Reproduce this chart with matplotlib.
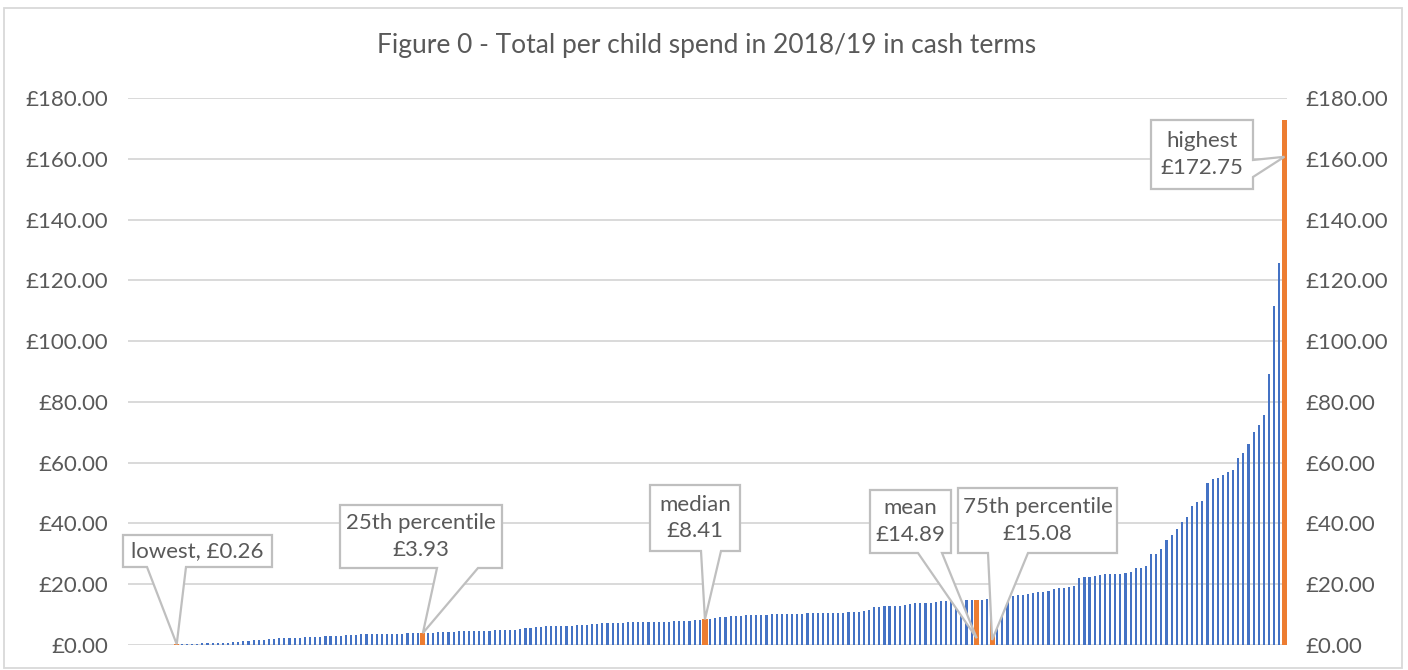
import matplotlib.pyplot as plt
from matplotlib.patches import Polygon, Rectangle

plt.rcParams['font.family'] = ['Lato', 'DejaVu Sans']

# per child spend, sorted (first 9 categories have no value)
values = [
    0, 0, 0, 0, 0, 0, 0, 0, 0, 0.26,
    0.30, 0.31, 0.35, 0.48, 0.52, 0.58, 0.60, 0.64, 0.68, 0.71,
    0.98, 1.02, 1.21, 1.47, 1.50, 1.55, 1.60, 1.85, 2.08, 2.28,
    2.30, 2.33, 2.38, 2.41, 2.68, 2.70, 2.74, 2.78, 2.81, 2.86,
    3.08, 3.10, 3.14, 3.18, 3.22, 3.48, 3.50, 3.52, 3.55, 3.57,
    3.60, 3.62, 3.66, 3.70, 3.86, 3.88, 3.91, 3.93, 4.02, 4.10,
    4.22, 4.38, 4.40, 4.42, 4.45, 4.47, 4.58, 4.60, 4.62, 4.64,
    4.66, 4.98, 5.00, 5.02, 5.05, 5.08, 5.42, 5.45, 5.48, 5.78,
    6.02, 6.18, 6.20, 6.22, 6.24, 6.26, 6.28, 6.66, 6.70, 6.73,
    7.05, 7.07, 7.09, 7.10, 7.12, 7.14, 7.16, 7.48, 7.50, 7.52,
    7.54, 7.56, 7.58, 7.60, 7.62, 7.64, 7.98, 8.00, 8.02, 8.05,
    8.08, 8.30, 8.41, 8.72, 8.78, 9.10, 9.15, 9.50, 9.55, 9.58,
    9.95, 9.97, 9.98, 10.00, 10.02, 10.04, 10.06, 10.08, 10.10, 10.12,
    10.14, 10.16, 10.40, 10.42, 10.44, 10.46, 10.48, 10.50, 10.52, 10.54,
    10.80, 10.84, 10.88, 11.25, 11.65, 12.40, 12.50, 12.80, 12.85, 12.88,
    12.92, 13.30, 13.35, 13.75, 13.78, 13.82, 13.86, 14.20, 14.60, 14.64,
    14.68, 14.72, 14.76, 14.80, 14.85, 14.89, 14.95, 15.00, 15.08, 15.20,
    15.30, 15.60, 16.10, 16.40, 16.55, 16.90, 17.10, 17.30, 17.50, 17.65,
    18.30, 18.60, 18.80, 19.20, 19.35, 22.20, 22.30, 22.50, 22.80, 23.00,
    23.30, 23.35, 23.40, 23.45, 23.80, 24.10, 25.40, 25.50, 25.90, 29.80,
    30.10, 31.70, 34.60, 36.10, 38.10, 40.50, 42.00, 45.70, 46.90, 47.50,
    53.30, 54.70, 55.10, 55.90, 56.80, 57.70, 61.40, 63.10, 66.00, 70.10,
    72.30, 75.70, 89.10, 111.70, 125.70, 172.75,
]

# highlighted bars and their callouts
highlight_idx = [9, 57, 112, 165, 168, 225]
callout_text = ['lowest, £0.26', '25th percentile\n£3.93', 'median\n£8.41',
                'mean\n£14.89', '75th percentile\n£15.08', 'highest\n£172.75']
tip_frac = [1.0, 1.0, 1.0, 0.15, 0.11, 0.93]

# callout boxes in pixels (x0, y0, x1, y1 from top-left), tail side and tail base
boxes = [(123, 535, 272, 567), (340, 505, 502, 568), (650, 485, 740, 551),
         (870, 490, 951, 553), (958, 488, 1117, 553), (1151, 120, 1253, 189)]
tails = [('b', 147, 186), ('b', 437, 478), ('b', 701, 721),
         ('b', 918, 942), ('b', 988, 1028), ('r', 160, 177)]

yticks = list(range(0, 181, 20))

W, H = 1408, 670
fig = plt.figure(figsize=(W / 100, H / 100), dpi=100)
ax = fig.add_axes([128 / W, 1 - 645 / H, (1287 - 128) / W, (645 - 98) / H])

x = list(range(len(values)))
ax.bar(x, values, width=0.42, color='#4472C4', zorder=2)
ax.bar(highlight_idx, [values[i] for i in highlight_idx], width=1.0,
       color='#ED7D31', zorder=3)

ax.set_xlim(-0.5, len(values) - 0.5)
ax.set_ylim(0, 180)
ax.set_yticks(yticks)
ax.set_yticklabels([f'£{v:.2f}' for v in yticks])
ax.set_xticks([])
ax.grid(axis='y', color='#d9d9d9', linewidth=1.4, zorder=0)
ax.set_axisbelow(True)
for s in ax.spines.values():
    s.set_visible(False)
ax.tick_params(axis='y', length=0, pad=14, labelsize=16, labelcolor='#595959')

ax2 = ax.twinx()
ax2.set_ylim(0, 180)
ax2.set_yticks(yticks)
ax2.set_yticklabels([f'£{v:.2f}' for v in yticks])
for s in ax2.spines.values():
    s.set_visible(False)
ax2.tick_params(axis='y', length=0, pad=13, labelsize=16, labelcolor='#595959')

fig.text(0.5015, 1 - 46 / H, 'Figure 0 - Total per child spend in 2018/19 in cash terms',
         ha='center', va='center', fontsize=19, color='#595959')


def fx(px):
    return px / W


def fy(py):
    return 1 - py / H


to_fig = fig.transFigure.inverted()
for i, txt, frac, (x0, y0, x1, y1), (side, b1, b2) in zip(
        highlight_idx, callout_text, tip_frac, boxes, tails):
    tip = to_fig.transform(ax.transData.transform((i, values[i] * frac)))
    if side == 'b':
        pts = [(fx(x0), fy(y0)), (fx(x1), fy(y0)), (fx(x1), fy(y1)),
               (fx(b2), fy(y1)), tuple(tip), (fx(b1), fy(y1)), (fx(x0), fy(y1))]
    else:
        pts = [(fx(x0), fy(y0)), (fx(x1), fy(y0)), (fx(x1), fy(b1)), tuple(tip),
               (fx(x1), fy(b2)), (fx(x1), fy(y1)), (fx(x0), fy(y1))]
    fig.add_artist(Polygon(pts, closed=True, facecolor='white', edgecolor='#bfbfbf',
                           linewidth=1.6, transform=fig.transFigure, zorder=5))
    fig.text(fx((x0 + x1) / 2), fy((y0 + y1) / 2), txt, ha='center', va='center',
             fontsize=16, color='#595959', linespacing=1.4, zorder=6)

fig.add_artist(Rectangle((fx(4), fy(668)), (1402 - 4) / W, (668 - 8) / H, fill=False,
                         edgecolor='#d9d9d9', linewidth=1.3, transform=fig.transFigure))

fig.savefig('out.png', dpi=100)
